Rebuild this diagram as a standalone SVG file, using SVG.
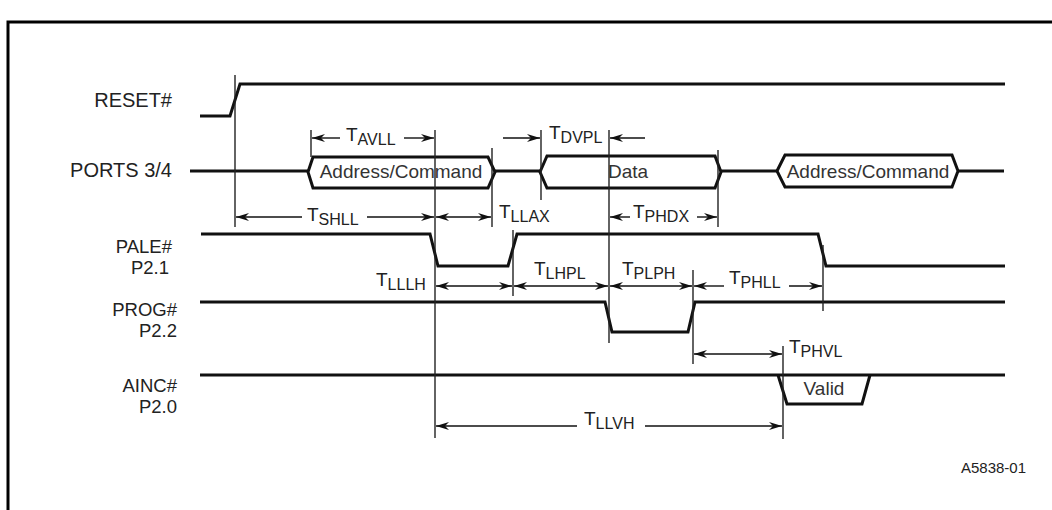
<svg xmlns="http://www.w3.org/2000/svg" width="1052" height="510" viewBox="0 0 1052 510">
<defs>
<marker id="ah" markerUnits="userSpaceOnUse" markerWidth="14" markerHeight="10" refX="13" refY="5" orient="auto-start-reverse">
<path d="M0,1 L13,5 L0,9 L4,5 Z" fill="#111"/>
</marker>
<style>
.sig{fill:none;stroke:#111;stroke-width:3;stroke-linejoin:miter}
.tick{stroke:#222;stroke-width:1.4;fill:none}
.dim{stroke:#111;stroke-width:1.4;fill:none}
.ar{marker-end:url(#ah)}
.al{marker-start:url(#ah)}
.lbl{font-family:"Liberation Sans",Arial,sans-serif;font-size:20px;fill:#222}
.lbl2{font-family:"Liberation Sans",Arial,sans-serif;font-size:18.5px;fill:#222;text-anchor:end}
.tt{font-family:"Liberation Sans",Arial,sans-serif;font-size:19px;fill:#222}
.sub{font-size:16px}
.bx{font-family:"Liberation Sans",Arial,sans-serif;font-size:19px;fill:#333;text-anchor:middle}
</style>
</defs>
<rect width="1052" height="510" fill="#fff"/>
<path d="M8,515 L8,22 L1060,22" fill="none" stroke="#000" stroke-width="3"/>

<g id="labels">
<text class="lbl" x="172" y="107" text-anchor="end">RESET#</text>
<text class="lbl" x="172" y="177" text-anchor="end">PORTS 3/4</text>
<text class="lbl2" x="172" y="253">PALE#</text>
<text class="lbl2" x="169" y="274">P2.1</text>
<text class="lbl2" x="177" y="316">PROG#</text>
<text class="lbl2" x="177" y="337">P2.2</text>
<text class="lbl2" x="177" y="392">AINC#</text>
<text class="lbl2" x="177" y="413">P2.0</text>
</g>

<g id="reset">
<path class="sig" d="M200,116 L230,116 L240,84 L1005,84"/>
</g>

<g id="ports">
<path class="sig" d="M190,171 L308,171"/>
<path class="sig" d="M308,172 L313,157 L488,157 L495,172 L488,188 L313,188 Z"/>
<text class="bx" x="401" y="178">Address/Command</text>
<path class="sig" d="M495,171 L540,171"/>
<path class="sig" d="M540,172 L547,156 L715,156 L721,172 L715,188 L547,188 Z"/>
<text class="bx" x="628" y="178">Data</text>
<path class="sig" d="M721,171 L777,171"/>
<path class="sig" d="M777,171 L785,155 L952,155 L958,171 L952,187 L785,187 Z"/>
<text class="bx" x="868" y="178">Address/Command</text>
<path class="sig" d="M958,171 L1004,171"/>
</g>

<g id="pale">
<path class="sig" d="M201,234 L430,234 L438,266 L508,266 L517,234 L818,234 L826,266 L1005,266"/>
</g>

<g id="prog">
<path class="sig" d="M200,302 L605,302 L612,332 L688,332 L695,302 L1005,302"/>
</g>

<g id="ainc">
<path class="sig" d="M200,375 L1005,375"/>
<path class="sig" d="M778,375 L787,404 L862,404 L870,375"/>
<text class="bx" x="824" y="395">Valid</text>
</g>

<g id="connectors">
<line class="tick" x1="235" y1="75" x2="235" y2="227"/>
<line class="tick" x1="311" y1="130" x2="311" y2="157"/>
<line class="tick" x1="435" y1="130" x2="435" y2="438"/>
<line class="tick" x1="492" y1="148" x2="492" y2="227"/>
<line class="tick" x1="541" y1="130" x2="541" y2="200"/>
<line class="tick" x1="609" y1="130" x2="609" y2="343"/>
<line class="tick" x1="718" y1="150" x2="718" y2="227"/>
<line class="tick" x1="513" y1="230" x2="513" y2="296"/>
<line class="tick" x1="693" y1="270" x2="693" y2="364"/>
<line class="tick" x1="823" y1="245" x2="823" y2="311"/>
<line class="tick" x1="783" y1="346" x2="783" y2="439"/>

<line class="dim al" x1="312" y1="138" x2="340" y2="138"/>
<line class="dim ar" x1="404" y1="138" x2="434" y2="138"/>

<line class="dim al" x1="236" y1="217" x2="302" y2="217"/>
<line class="dim ar" x1="367" y1="217" x2="434" y2="217"/>
<line class="dim al ar" x1="436" y1="217" x2="491" y2="217"/>

<line class="dim ar" x1="503" y1="138" x2="540" y2="138"/>
<line class="dim ar" x1="645" y1="138" x2="610" y2="138"/>

<line class="dim al" x1="610" y1="217" x2="630" y2="217"/>
<line class="dim ar" x1="697" y1="217" x2="717" y2="217"/>

<line class="dim al ar" x1="436" y1="286" x2="512" y2="286"/>
<line class="dim al ar" x1="514" y1="286" x2="608" y2="286"/>
<line class="dim al ar" x1="610" y1="286" x2="692" y2="286"/>
<line class="dim al" x1="694" y1="286" x2="724" y2="286"/>
<line class="dim ar" x1="789" y1="286" x2="822" y2="286"/>

<line class="dim al ar" x1="694" y1="354" x2="782" y2="354"/>

<line class="dim al" x1="436" y1="426" x2="577" y2="426"/>
<line class="dim ar" x1="645" y1="426" x2="782" y2="426"/>
</g>

<g id="timing-labels">
<text class="tt" x="346" y="141">T<tspan class="sub" dy="4">AVLL</tspan></text>
<text class="tt" x="307" y="221">T<tspan class="sub" dy="4">SHLL</tspan></text>
<text class="tt" x="499" y="218">T<tspan class="sub" dy="4">LLAX</tspan></text>
<text class="tt" x="549" y="139">T<tspan class="sub" dy="4">DVPL</tspan></text>
<text class="tt" x="633" y="218">T<tspan class="sub" dy="4">PHDX</tspan></text>
<text class="tt" x="376" y="286">T<tspan class="sub" dy="4">LLLH</tspan></text>
<text class="tt" x="534" y="275">T<tspan class="sub" dy="4">LHPL</tspan></text>
<text class="tt" x="622" y="275">T<tspan class="sub" dy="4">PLPH</tspan></text>
<text class="tt" x="729" y="284">T<tspan class="sub" dy="4">PHLL</tspan></text>
<text class="tt" x="789" y="353">T<tspan class="sub" dy="4">PHVL</tspan></text>
<text class="tt" x="584" y="425">T<tspan class="sub" dy="4">LLVH</tspan></text>
<text class="lbl" x="961" y="473" style="font-size:15px">A5838-01</text>
</g>
</svg>
